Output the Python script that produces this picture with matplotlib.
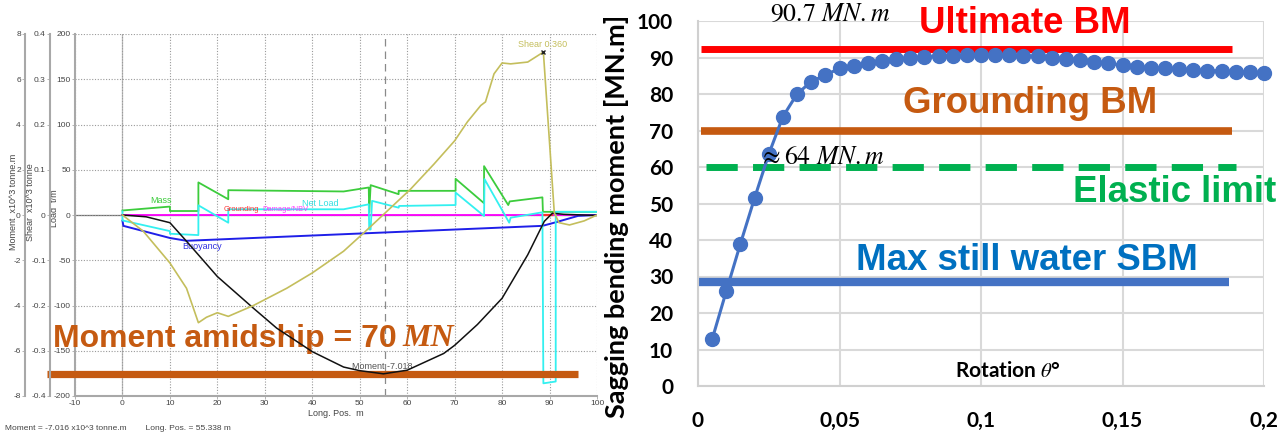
import matplotlib.pyplot as plt

plt.rcParams['mathtext.fontset'] = 'stix'
NARROW = ['Liberation Sans Narrow', 'Liberation Sans']

# ---------------- left panel: load / shear / moment along the hull ----------------
pos_moment = [0, 5, 10, 13.5, 20, 27.6, 32.5, 40, 46.6, 50, 55, 60, 67.7, 70,
              74.8, 80, 85.4, 88.9, 90.6, 93, 100]
moment = [0, -0.08, -0.34, -1.16, -2.72, -4.12, -5.0, -6.04, -6.72, -6.88, -7.02,
          -6.86, -6.12, -5.76, -4.84, -3.68, -1.76, -0.28, 0.08, 0.03, -0.02]

pos_shear = [0, 4.4, 10, 13.5, 16, 17.7, 20, 22.3, 27.6, 34.6, 40, 46.6, 50.8, 55,
             60.7, 65.6, 70, 72.7, 75.5, 76.5, 78.3, 80, 81.8, 85.4, 88.7, 91, 92,
             94.2, 97.3, 100]
shear = [0, -0.036, -0.106, -0.162, -0.238, -0.226, -0.216, -0.224, -0.2, -0.162,
         -0.128, -0.08, -0.04, 0.001, 0.057, 0.112, 0.164, 0.206, 0.242, 0.25,
         0.312, 0.336, 0.334, 0.338, 0.36, 0.005, -0.017, -0.022, -0.013, 0]

pos_mass = [0, 10, 10, 16, 16, 22.3, 22.3, 46.6, 51.9, 52.0, 52.3, 58.2, 58.2,
            70.2, 70.2, 76.2, 76.2, 81.3, 81.6, 88.5, 88.6, 100]
mass = [5, 9.3, 4.4, 4.4, 36, 17.4, 27.4, 26, 30.4, 3, 33, 23, 26.7, 26.7, 40, 13,
        54, 11, 15, 19.5, 3.5, 3.5]

pos_net = [0, 0, 10, 10, 16, 16, 22.3, 22.3, 46.6, 51.9, 52.0, 52.3, 52.6, 58.2,
           58.3, 70.2, 70.2, 76.2, 76.3, 81.5, 81.8, 88.5, 88.7, 91.3, 91.3, 100]
net_load = [4, -6, -17.8, -20.7, -22.2, 10.7, -8.5, 6.3, 6.3, 11.8, -16, -16, 15.6,
            8.1, 10, 11, 24.8, -1.1, 39.6, -8.5, -3, 3, -186, -184, 3.5, 3.5]

pos_buoy = [0, 0.2, 10, 13.5, 88.5, 91, 96, 100]
buoyancy = [-6.3, -12, -25.4, -28.5, -12, -8.5, -1, 0]

pos_damage = [0, 100]
damage_nbv = [0, 0]
pos_grounding = [88.6, 90.6]
grounding = [0, 0]

cursor_pos = 55.338
long_ticks = [-10, 0, 10, 20, 30, 40, 50, 60, 70, 80, 90, 100]
load_ticks = [-200, -150, -100, -50, 0, 50, 100, 150, 200]
shear_ticks = [-0.4, -0.3, -0.2, -0.1, 0, 0.1, 0.2, 0.3, 0.4]
shear_labels = ['-0.4', '-0.3', '-0.2', '-0.1', '0', '0.1', '0.2', '0.3', '0.4']
moment_ticks = [-8, -6, -4, -2, 0, 2, 4, 6, 8]

# ---------------- right panel: sagging moment vs rotation ----------------
rotation = [0.005, 0.01, 0.015, 0.02, 0.025, 0.03, 0.035, 0.04, 0.045, 0.05,
            0.055, 0.06, 0.065, 0.07, 0.075, 0.08, 0.085, 0.09, 0.095, 0.1,
            0.105, 0.11, 0.115, 0.12, 0.125, 0.13, 0.135, 0.14, 0.145, 0.15,
            0.155, 0.16, 0.165, 0.17, 0.175, 0.18, 0.185, 0.19, 0.195, 0.2]
sagging_bm = [12.8, 26, 39, 51.5, 63.5, 73.8, 80, 83.4, 85.2, 87.0,
              87.6, 88.4, 89, 89.5, 89.9, 90.2, 90.4, 90.5, 90.6, 90.7,
              90.7, 90.6, 90.5, 90.3, 90.0, 89.7, 89.3, 88.8, 88.4, 87.9,
              87.5, 87.2, 87.0, 86.8, 86.6, 86.4, 86.3, 86.1, 85.9, 85.7]
ultimate_bm = 92.3
grounding_bm = 70
elastic_limit = 60
still_water_sbm = 28.5
rot_ticks = [0, 0.05, 0.1, 0.15, 0.2]
rot_labels = ['0', '0,05', '0,1', '0,15', '0,2']
bm_ticks = [0, 10, 20, 30, 40, 50, 60, 70, 80, 90, 100]

W, H = 1282, 434
fig = plt.figure(figsize=(W / 100, H / 100), dpi=100)

# ----- left -----
ax = fig.add_axes([75 / W, 1 - 396 / H, 522 / W, 362 / H])
ax.set_xlim(-10, 100)
ax.set_ylim(-200, 200)
ax_m = ax.twinx()
ax_m.set_ylim(-8, 8)
ax_s = ax.twinx()
ax_s.set_ylim(-0.4, 0.4)

spine_col = '#a8a8a8'
tick_col = '#444444'
for a, off in [(ax, 0), (ax_m, -0.0958), (ax_s, -0.0479)]:
    for s in ['top', 'right']:
        a.spines[s].set_visible(False)
    a.spines['left'].set_position(('axes', off))
    a.spines['left'].set_color(spine_col)
    a.spines['left'].set_linewidth(1.5)
    a.yaxis.set_ticks_position('left')
    a.yaxis.set_label_position('left')
    a.tick_params(axis='y', length=2, width=0.6, color=spine_col, pad=1,
                  labelsize=6, labelcolor=tick_col)
ax_m.spines['bottom'].set_visible(False)
ax_s.spines['bottom'].set_visible(False)
ax.spines['bottom'].set_color(spine_col)
ax.spines['bottom'].set_linewidth(1.5)

ax.set_yticks(load_ticks)
ax.set_yticklabels([str(v) for v in load_ticks], family=NARROW)
ax_m.set_yticks(moment_ticks)
ax_m.set_yticklabels([str(v) for v in moment_ticks], family=NARROW)
ax_s.set_yticks(shear_ticks)
ax_s.set_yticklabels(shear_labels, family=NARROW)
ax.set_xticks(long_ticks)
ax.set_xticklabels([str(v) for v in long_ticks], family=NARROW)
ax.tick_params(axis='x', length=2, width=0.6, color=spine_col, pad=1, labelsize=6,
               labelcolor=tick_col)

ax.grid(True, linestyle=(0, (1, 1.5)), color='#9a9a9a', linewidth=0.8)
ax.axhline(0, color='#707070', linewidth=0.9, zorder=1)
ax.axvline(0, color='#bbbbbb', linewidth=0.9, zorder=1)
ax.axvline(cursor_pos, color='#8a8a8a', linewidth=0.9, linestyle=(0, (6, 4)), zorder=1)

ax.set_ylabel('Load  t/m', family=NARROW, fontsize=6.5, color=tick_col)
ax_s.set_ylabel('Shear  x10^3 tonne', family=NARROW, fontsize=6.5, color=tick_col)
ax_m.set_ylabel('Moment  x10^3 tonne.m', family=NARROW, fontsize=6.5, color=tick_col)
ax.yaxis.set_label_coords(-0.031, 0.518)
ax_s.yaxis.set_label_coords(-0.076, 0.535)
ax_m.yaxis.set_label_coords(-0.109, 0.536)
ax.set_xlabel('Long. Pos.  m', family=NARROW, fontsize=6.5, color=tick_col, labelpad=1)

ax.plot(pos_damage, damage_nbv, color='#ff00ff', linewidth=1.3, zorder=3)
ax.plot(pos_grounding, grounding, color='#ff3030', linewidth=1.6, zorder=3)
ax.plot(pos_buoy, buoyancy, color='#1f1fe8', linewidth=1.4, zorder=3)
ax.plot(pos_mass, mass, color='#3ccc3c', linewidth=1.3, zorder=3)
ax.plot(pos_net, net_load, color='#33f0f0', linewidth=1.3, zorder=3)
ax_s.plot(pos_shear, shear, color='#c4be5c', linewidth=1.2)
ax_m.plot(pos_moment, moment, color='#111111', linewidth=1.1)
ax_s.plot([pos_shear[24]], [shear[24]], marker='x', color='#222222', markersize=3)

lab = dict(family=NARROW, fontsize=6.5, ha='center', va='center')
ax.text(8.2, 15.5, 'Mass', color='#3ccc3c', **lab)
ax.text(16.8, -35, 'Buoyancy', color='#3030e0', **lab)
ax.text(41.6, 13, 'Net Load', color='#33e0e0', **lab)
ax.text(88.5, 188, 'Shear 0.360', color='#c4be5c', **lab)
ax.text(54.8, -167, 'Moment -7.018', color='#555555', **lab)
small = dict(family=NARROW, fontsize=5.4, ha='left', va='center')
ax.text(21.4, 6.3, 'Grounding', color='#ff3030', **small)
ax.text(29.4, 6.3, 'Damage/NBV', color='#ff33ff', **small)

# overlay: grounding moment annotation
ax.plot([-16, 96], [-175.5, -175.5], color='#c55a11', linewidth=5.2,
        solid_capstyle='butt', clip_on=False, zorder=6)
ax.text(-14.7, -137, 'Moment amidship = 70 ', color='#c55a11', fontsize=23,
        fontweight='bold', family='Liberation Sans', ha='left', va='center', zorder=7)
ax.text(58.9, -137, 'MN', color='#c55a11', fontsize=23, fontweight='bold',
        fontstyle='italic', family='Liberation Serif', ha='left', va='center', zorder=7)

fig.text(5 / W, 1 - 428 / H, 'Moment = -7.016 x10^3 tonne.m        Long. Pos. = 55.338 m',
         family=NARROW, fontsize=6, color=tick_col, va='center')

# ----- right -----
bx = fig.add_axes([698 / W, 1 - 386 / H, 566 / W, 365 / H])
bx.set_xlim(0, 0.2)
bx.set_ylim(0, 100)
bx.set_xticks(rot_ticks)
bx.set_xticklabels(rot_labels)
bx.set_yticks(bm_ticks)
bx.grid(True, color='#d9d9d9', linewidth=1.5)
bx.set_axisbelow(True)
for s in ['top', 'right']:
    bx.spines[s].set_visible(False)
for s in ['left', 'bottom']:
    bx.spines[s].set_color('#d0d0d0')
    bx.spines[s].set_linewidth(1.5)
bx.tick_params(length=0, labelsize=15, pad=18)
for t in bx.get_xticklabels() + bx.get_yticklabels():
    t.set_family('Lato')
    t.set_fontweight('bold')
bx.set_ylabel('Sagging bending moment [MN.m]', family='Lato', fontweight='bold',
              fontsize=19.5)
bx.yaxis.set_label_coords(-0.122, 0.465)

bx.plot([0.001, 0.1887], [ultimate_bm, ultimate_bm], color='#ff0000', linewidth=5,
        solid_capstyle='butt')
bx.plot([0.001, 0.1887], [grounding_bm, grounding_bm], color='#c55a11', linewidth=5.5,
        solid_capstyle='butt')
bx.plot([0.0027, 0.190], [elastic_limit, elastic_limit], color='#00b050', linewidth=5,
        linestyle=(0, (4.5, 2.2)), dash_capstyle='butt')
bx.plot([0.0, 0.1876], [still_water_sbm, still_water_sbm], color='#4472c4',
        linewidth=6, solid_capstyle='butt')
bx.plot(rotation, sagging_bm, color='#4472c4', linewidth=2.2, marker='o',
        markersize=10, clip_on=False, zorder=5)

big = dict(fontsize=26.4, fontweight='bold', family='Liberation Sans', ha='center',
           va='center')
bx.text(0.1155, 99.3, 'Ultimate BM', color='#ff0000', **big)
bx.text(0.1173, 77.3, 'Grounding BM', color='#c55a11', **big)
bx.text(0.1685, 53, 'Elastic limit', color='#00b050', clip_on=False, **big)
bx.text(0.1162, 34.4, 'Max still water SBM', color='#0070c0', **big)
bx.text(0.0466, 101.8, r'$90.7\ MN.m$', fontsize=18.5, ha='center', va='center',
        zorder=6)
bx.text(0.0438, 62.8, r'$\approx 64\ MN.m$', fontsize=18.5, ha='center', va='center',
        zorder=6)
bx.text(0.1096, 4.0, r'Rotation $\theta$°', family='Lato', fontweight='bold',
        fontsize=15, ha='center', va='center')

fig.savefig('out.png', dpi=100)
